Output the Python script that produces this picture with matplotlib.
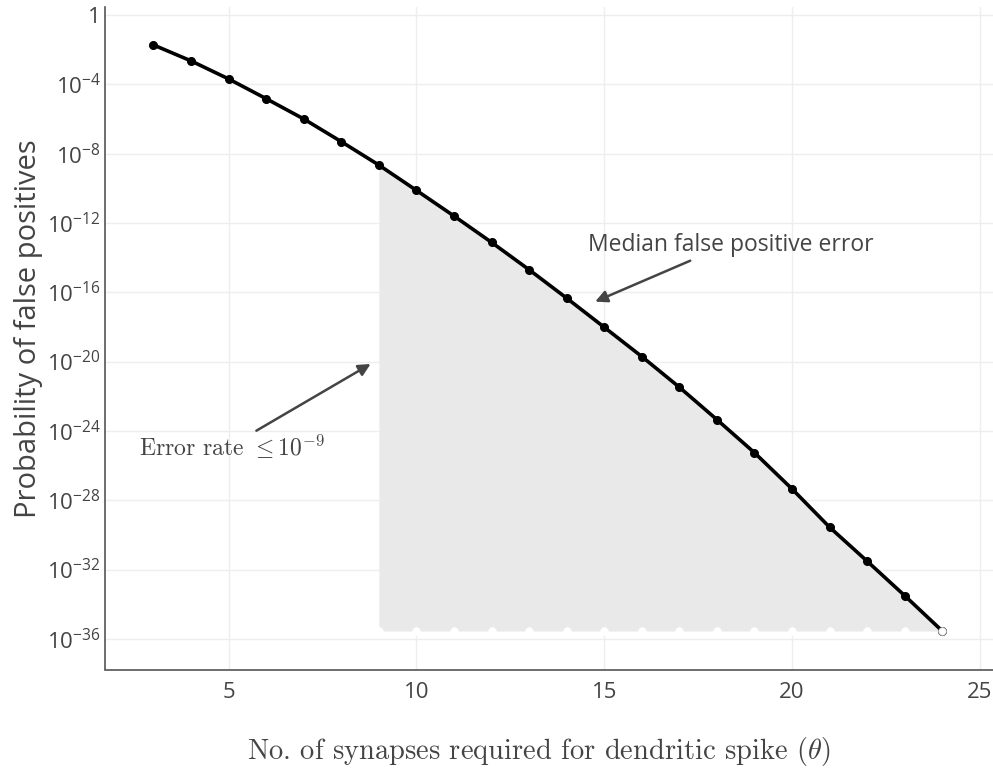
import numpy as np
import matplotlib
matplotlib.use('Agg')
from matplotlib import pyplot as plt
from matplotlib.ticker import FixedLocator, FixedFormatter, NullLocator

plt.rcParams['font.family'] = ['Open Sans', 'DejaVu Sans']
plt.rcParams['mathtext.fontset'] = 'custom'
plt.rcParams['mathtext.rm'] = 'Open Sans'
plt.rcParams['mathtext.it'] = 'Open Sans:italic'

# synapses needed for a dendritic spike, and log10 of the false positive probability
theta = [3, 4, 5, 6, 7, 8, 9, 10, 11, 12, 13, 14, 15, 16, 17, 18, 19, 20, 21, 22, 23, 24]
log10_p = [-1.73, -2.65, -3.69, -4.83, -6.00, -7.31, -8.66, -10.12, -11.60, -13.12,
           -14.70, -16.34, -18.02, -19.71, -21.48, -23.35, -25.26, -27.35, -29.56,
           -31.52, -33.51, -35.55]

shade_from = 9   # region where error rate <= 1e-9

ytick_exp = [0, -4, -8, -12, -16, -20, -24, -28, -32, -36]
xticks = [5, 10, 15, 20, 25]

p = 10.0 ** np.array(log10_p)
th = np.array(theta)
mask = th >= shade_from
base = p[-1]

txt = '#444444'

fig = plt.figure(figsize=(9.93, 7.71), dpi=100)
ax = fig.add_axes([105 / 993, 1 - 669.5 / 771, (993 - 105) / 993, (669.5 - 7) / 771])
ax.set_yscale('log')
ax.set_xlim(1.71, 25.35)
ax.set_ylim(10 ** -37.77, 10 ** 0.46)

ax.fill_between(th[mask], p[mask], base, color='#e9e9e9', lw=0, zorder=1)
ax.plot(th, p, color='black', lw=2.6, marker='o', ms=5.5, zorder=3)
# white markers along the bottom of the shaded area
ax.plot(th[mask][:-1], np.full(mask.sum() - 1, base), ls='none', marker='o', ms=5.5,
        mfc='white', mec='white', mew=0.5, zorder=4)
ax.plot(th[-1:], [base], ls='none', marker='o', ms=5.5,
        mfc='white', mec='#cccccc', mew=0.6, zorder=4)

ax.yaxis.set_major_locator(FixedLocator([10.0 ** e for e in ytick_exp]))
ax.yaxis.set_major_formatter(FixedFormatter(['1' if e == 0 else r'$10^{%d}$' % e for e in ytick_exp]))
ax.yaxis.set_minor_locator(NullLocator())
ax.set_xticks(xticks)
ax.set_xticklabels([str(v) for v in xticks])

ax.grid(True, color='#eeeeee', lw=1, zorder=0)
ax.set_axisbelow(True)
for s in ['top', 'right']:
    ax.spines[s].set_visible(False)
for s in ['left', 'bottom']:
    ax.spines[s].set_color('#555555')
    ax.spines[s].set_linewidth(1.2)
ax.tick_params(length=0, labelsize=16, labelcolor=txt)
ax.tick_params(axis='x', pad=9)
ax.tick_params(axis='y', pad=3)

ax.set_ylabel('Probability of false positives', fontsize=21, color=txt, va='center')
ax.yaxis.set_label_coords(-0.0867, 0.514)
ax.set_xlabel(r'No. of synapses required for dendritic spike ($\theta$)', family='cmr10',
              fontsize=20.5, color=txt, math_fontfamily='cm', va='center')
ax.xaxis.set_label_coords(0.489, -0.124)

arrow = dict(arrowstyle='-|>', color='#444444', lw=1.8, mutation_scale=18, shrinkA=0, shrinkB=0)
ax.annotate('', xy=(14.76, 10 ** -16.54), xytext=(17.29, 10 ** -14.18), arrowprops=arrow, zorder=5)
ax.text(18.38, 10 ** -13.27, 'Median false positive error', fontsize=16.5, color=txt,
        ha='center', va='center', zorder=5)
ax.annotate('', xy=(8.78, 10 ** -20.14), xytext=(5.74, 10 ** -23.99), arrowprops=arrow, zorder=5)
ax.text(5.08, 10 ** -24.91, r'Error rate $\leq 10^{-9}$', family='cmr10', fontsize=17,
        color=txt, ha='center', va='center', math_fontfamily='cm', zorder=5)

fig.savefig('out.png', dpi=100)
